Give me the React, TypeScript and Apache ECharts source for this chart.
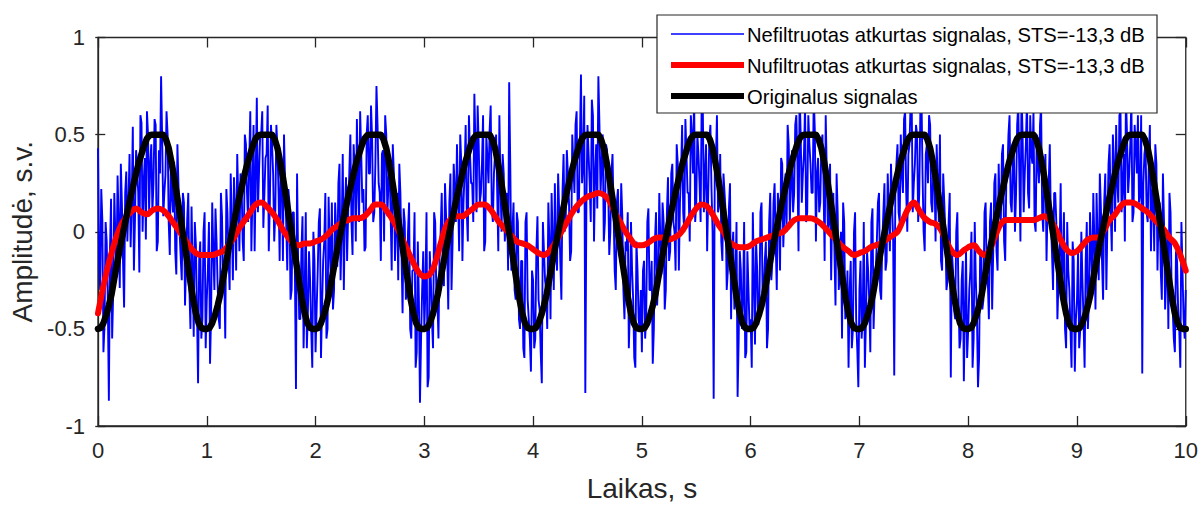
import React, { useEffect, useRef } from "react";
import * as echarts from "echarts";

// Noisy reconstructed signal (blue): samples at t = 0.00, 0.02, ... 10.00 s
const blueEven: number[] = [
  0.43,-0.30,0.06,-0.48,-0.05,-0.87,0.17,-0.31,-0.03,0.29,-0.29,0.14,-0.39,0.31,0.15,-0.08,0.54,0.06,0.33,-0.21,0.56,0.25,-0.04,0.5,0.35,0.1,0.58,-0.1,0.42,0.8,0.08,0.29,0.5,-0.12,0.19,0.36,-0.22,0.24,-0.13,0.2,-0.38,0.06,-0.29,0.13,-0.54,-0.07,-0.78,-0.05,-0.45,0.1,
  -0.35,0.05,-0.42,-0.1,0.12,-0.28,-0.5,0.08,-0.2,0.22,-0.12,0.3,-0.25,0.12,0.4,-0.1,0.25,-0.15,0.45,0.05,0.62,0.2,-0.1,0.69,0.3,0.5,0.02,0.38,0.65,0.15,0.45,-0.05,0.55,0.2,0.4,-0.15,0.25,-0.2,0.15,-0.3,0.1,-0.81,-0.15,-0.45,0.08,-0.32,-0.6,-0.1,-0.5,0.0,
  -0.62,-0.2,0.12,-0.38,-0.05,-0.55,0.18,-0.22,-0.4,0.15,-0.18,0.35,0.0,-0.3,0.28,0.1,0.5,-0.12,0.32,0.58,0.05,0.4,0.22,-0.08,0.6,0.3,0.48,0.1,0.75,0.25,-0.15,0.42,0.6,0.08,0.35,-0.2,0.3,0.02,-0.25,0.2,-0.42,0.05,-0.3,0.15,-0.55,-0.2,-0.7,-0.05,-0.88,-0.3,
  -0.5,0.1,-0.75,-0.25,-0.6,0.05,-0.35,-0.12,0.2,-0.28,0.08,-0.4,0.3,-0.05,0.22,0.45,-0.1,0.35,0.15,0.55,-0.05,0.4,0.25,0.71,0.1,0.45,0.2,0.6,-0.05,0.38,0.52,0.12,0.3,0.5,-0.1,0.25,0.4,-0.05,0.2,0.77,-0.2,0.15,-0.35,0.05,-0.5,-0.15,-0.65,0.1,-0.45,-0.72,
  -0.25,-0.55,0.08,-0.4,-0.78,-0.1,-0.3,0.15,-0.45,-0.05,0.25,-0.2,0.1,-0.35,0.4,0.05,0.3,-0.15,0.5,0.2,0.62,0.1,0.81,0.35,-0.83,0.55,0.25,0.68,-0.05,0.45,0.8,0.2,0.5,0.05,0.42,-0.12,0.3,0.1,-0.3,0.22,-0.15,0.08,-0.45,-0.1,-0.6,0.05,-0.35,-0.7,-0.2,-0.5,
  -0.62,-0.15,-0.42,0.12,-0.3,-0.68,-0.05,-0.38,0.2,-0.22,0.05,-0.3,0.28,-0.1,0.35,0.0,0.45,-0.2,0.3,0.1,0.58,0.2,-0.05,0.5,0.72,0.15,0.4,0.05,0.65,0.3,-0.1,0.48,0.22,-0.86,0.35,0.1,0.4,-0.15,0.2,-0.3,0.12,-0.45,0.0,-0.25,-0.85,-0.1,-0.5,0.05,-0.62,-0.3,
  -0.45,0.1,-0.58,-0.2,-0.4,0.15,-0.3,-0.05,-0.5,0.2,-0.15,0.25,-0.3,0.1,0.38,-0.08,0.3,0.55,0.05,0.42,0.2,0.6,-0.1,0.5,0.3,0.65,0.1,0.45,0.2,0.7,-0.05,0.38,0.15,0.5,-0.15,0.3,0.05,-0.25,0.2,-0.38,0.1,-0.2,-0.55,0.05,-0.4,-0.7,-0.15,-0.5,0.1,-0.6,
  -0.3,-0.55,0.05,-0.45,-0.2,-0.62,0.12,-0.3,-0.05,0.2,-0.35,0.1,-0.2,0.3,-0.1,0.15,-0.74,0.35,0.1,0.5,0.2,0.62,0.0,0.45,0.7,0.25,0.55,0.05,0.62,0.3,-0.1,0.45,0.6,0.15,0.35,-0.05,0.25,0.5,-0.2,0.15,-0.3,0.05,-0.75,-0.2,-0.45,0.1,-0.6,-0.25,-0.77,-0.1,
  -0.5,-0.2,-0.7,0.05,-0.42,-0.65,-0.1,-0.35,0.15,-0.25,0.05,-0.4,0.25,-0.1,0.35,0.05,0.45,-0.15,0.3,0.6,0.1,0.4,0.2,0.65,-0.05,0.5,0.3,0.68,0.12,0.4,0.62,0.0,0.35,0.55,0.1,0.3,-0.15,0.25,0.05,-0.3,0.2,-0.45,-0.1,-0.35,0.1,-0.6,-0.2,-0.5,-0.05,-0.72,
  -0.35,-0.6,0.0,-0.45,-0.15,-0.5,0.1,-0.3,-0.05,0.2,-0.25,0.12,-0.35,0.3,0.05,0.45,-0.1,0.35,0.55,0.15,0.62,0.25,-0.05,0.5,0.3,0.68,0.1,0.45,0.6,0.2,-0.73,0.4,0.1,0.35,-0.1,0.25,0.45,-0.2,0.15,-0.35,0.05,-0.25,-0.5,0.1,-0.4,-0.62,-0.15,-0.5,0.05,-0.45,
  -0.3,
];

// Noisy reconstructed signal (blue): samples at t = 0.01, 0.03, ... 9.99 s
const blueOdd: number[] = [
  -0.15,0.22,-0.62,0.05,-0.35,-0.1,-0.55,0.2,-0.2,0.05,0.35,-0.15,0.2,-0.05,0.4,0.15,-0.2,0.42,0.2,0.6,0.0,0.38,0.62,0.1,0.45,0.25,0.55,-0.05,0.3,0.48,0.2,0.62,0.05,0.4,0.1,-0.1,0.45,0.0,-0.25,0.15,-0.15,0.2,-0.5,-0.2,0.05,-0.4,-0.15,-0.55,0.0,-0.6,
  -0.2,-0.68,0.15,-0.3,-0.05,-0.45,0.2,-0.25,-0.55,0.1,-0.3,0.05,0.28,-0.2,0.15,0.3,-0.05,0.5,0.2,0.35,-0.1,0.55,0.3,0.1,0.48,0.62,0.2,0.4,-0.1,0.55,0.3,0.1,0.42,-0.15,0.3,0.5,0.05,0.22,-0.35,0.1,-0.2,0.3,-0.45,-0.1,-0.6,0.1,-0.4,-0.25,-0.7,-0.15,
  -0.4,0.05,-0.65,-0.15,0.2,-0.5,-0.1,0.15,-0.3,0.0,0.25,-0.25,0.4,0.1,-0.15,0.3,0.05,0.45,-0.05,0.25,0.62,0.15,-0.1,0.5,0.3,0.65,0.05,0.35,0.55,0.2,0.4,-0.05,0.5,0.25,0.1,0.45,-0.15,0.2,0.35,-0.1,0.12,-0.35,0.0,-0.5,-0.2,0.1,-0.62,-0.35,-0.55,-0.1,
  -0.3,-0.8,-0.1,-0.45,0.1,-0.3,-0.55,0.0,-0.2,0.25,-0.1,0.15,-0.3,0.35,0.05,0.2,0.5,-0.15,0.3,0.1,0.6,0.25,0.05,0.45,0.65,0.15,0.35,-0.1,0.5,0.25,0.65,0.05,0.4,0.2,0.6,0.0,0.3,0.15,-0.2,0.35,0.0,-0.3,0.1,-0.45,-0.15,-0.6,0.05,-0.35,-0.55,-0.2,
  -0.6,-0.1,-0.35,-0.62,0.05,-0.25,-0.5,-0.05,0.2,-0.3,-0.1,0.3,-0.15,0.2,0.0,0.42,0.15,-0.1,0.35,0.55,0.1,0.45,0.25,0.7,0.15,0.4,0.05,0.6,0.3,0.12,0.55,0.35,-0.05,0.45,0.25,0.0,0.4,-0.2,0.15,-0.05,0.25,-0.3,-0.05,0.1,-0.4,-0.2,-0.65,-0.05,-0.45,-0.3,
  -0.2,-0.55,0.05,-0.3,-0.15,-0.5,0.1,-0.25,-0.05,0.15,-0.4,0.1,-0.15,0.3,0.05,-0.2,0.35,0.15,0.55,0.0,0.4,0.2,0.6,0.3,0.05,0.5,0.25,0.7,0.1,0.45,0.2,0.55,0.0,0.3,0.6,0.15,-0.05,0.3,0.1,-0.2,0.25,-0.1,-0.4,0.05,-0.55,-0.2,-0.35,-0.65,-0.1,-0.5,
  -0.7,-0.25,-0.05,-0.48,0.1,-0.35,-0.15,-0.6,0.05,-0.25,0.15,-0.05,0.2,-0.2,0.35,0.1,0.0,0.45,0.25,0.1,0.55,0.35,0.72,0.15,0.4,0.05,0.6,0.35,0.2,0.52,0.3,0.1,0.45,0.25,0.6,0.0,0.35,0.15,-0.1,0.3,-0.3,0.0,0.15,-0.45,-0.2,-0.3,-0.6,0.0,-0.45,-0.8,
  -0.15,-0.45,-0.7,-0.1,-0.35,0.05,-0.5,-0.2,0.15,-0.3,-0.05,0.25,-0.15,0.1,0.35,-0.05,0.2,0.45,0.05,0.3,0.58,0.2,0.4,0.65,0.1,0.35,0.5,0.2,0.72,0.0,0.4,0.25,0.55,0.1,0.3,0.45,0.05,-0.15,0.3,0.0,-0.25,0.2,-0.1,-0.4,0.0,-0.3,-0.55,-0.15,-0.4,-0.65,
  -0.3,0.0,-0.55,-0.25,-0.8,-0.1,-0.4,0.1,-0.2,-0.45,0.15,-0.1,0.3,-0.2,0.1,0.4,-0.05,0.25,0.5,0.15,0.35,0.0,0.55,0.3,0.72,0.1,0.45,0.2,0.6,0.35,0.05,0.5,0.25,0.65,0.0,0.4,0.15,0.45,-0.1,0.2,0.05,-0.25,0.25,-0.15,-0.5,0.05,-0.3,-0.7,-0.15,-0.45,
  -0.1,-0.5,-0.25,-0.7,0.05,-0.35,-0.1,0.2,-0.4,-0.05,0.3,-0.15,0.15,-0.3,0.35,0.1,0.5,0.0,0.25,0.6,0.1,0.4,0.7,0.2,0.45,0.05,0.55,0.3,0.15,0.6,0.25,0.45,0.05,0.55,0.2,-0.1,0.35,0.1,-0.2,0.3,-0.4,0.0,0.2,-0.3,-0.55,-0.1,-0.4,-0.7,-0.2,-0.55,
];

// Filtered signal (red), 201 samples over 0..10 s
const redValues: number[] = [
  -0.42,-0.28,-0.16,-0.06,0.02,0.07,0.10,0.12,0.10,0.09,0.11,0.12,0.11,0.08,0.04,0.00,-0.04,-0.08,-0.11,-0.12,
  -0.12,-0.12,-0.11,-0.10,-0.07,-0.03,0.02,0.06,0.10,0.14,0.15,0.13,0.10,0.06,0.01,-0.03,-0.06,-0.07,-0.06,-0.06,
  -0.05,-0.04,-0.02,0.01,0.03,0.05,0.06,0.07,0.07,0.08,0.11,0.14,0.14,0.11,0.07,0.02,-0.04,-0.10,-0.16,-0.21,
  -0.23,-0.22,-0.16,-0.06,0.03,0.07,0.08,0.08,0.10,0.12,0.14,0.14,0.12,0.08,0.04,0.01,-0.02,-0.05,-0.06,-0.07,
  -0.09,-0.11,-0.12,-0.10,-0.06,-0.01,0.04,0.09,0.13,0.16,0.18,0.19,0.20,0.19,0.16,0.10,0.05,0.00,-0.04,-0.07,
  -0.07,-0.06,-0.04,-0.03,-0.03,-0.04,-0.03,-0.01,0.03,0.08,0.12,0.14,0.13,0.09,0.04,0.00,-0.05,-0.07,-0.08,-0.08,
  -0.07,-0.05,-0.04,-0.03,-0.02,-0.01,0.00,0.03,0.06,0.07,0.07,0.07,0.06,0.04,0.01,-0.02,-0.05,-0.08,-0.10,-0.12,
  -0.11,-0.10,-0.08,-0.07,-0.06,-0.04,-0.02,0.00,0.06,0.12,0.15,0.11,0.07,0.05,0.04,0.01,-0.05,-0.10,-0.12,-0.10,
  -0.08,-0.07,-0.10,-0.12,-0.09,-0.02,0.04,0.06,0.06,0.06,0.06,0.06,0.06,0.07,0.08,0.06,0.02,-0.04,-0.09,-0.11,
  -0.10,-0.07,-0.04,-0.03,-0.03,0.01,0.06,0.09,0.13,0.15,0.15,0.14,0.12,0.10,0.07,0.04,0.01,-0.03,-0.06,-0.12,
  -0.20,
];

// Original signal (black), 401 samples over 0..10 s
const blackValues: number[] = [
  -0.5,-0.495,-0.47,-0.43,-0.38,-0.32,-0.24,-0.165,-0.09,-0.02,0.05,0.115,0.18,0.24,0.3,0.355,0.4,0.445,0.48,0.497,0.5,0.5,0.5,0.5,0.5,0.475,0.43,0.36,0.28,0.19,0.1,0.01,-0.08,-0.17,-0.26,-0.35,-0.42,-0.47,-0.495,-0.5,
  -0.5,-0.495,-0.47,-0.43,-0.38,-0.32,-0.24,-0.165,-0.09,-0.02,0.05,0.115,0.18,0.24,0.3,0.355,0.4,0.445,0.48,0.497,0.5,0.5,0.5,0.5,0.5,0.475,0.43,0.36,0.28,0.19,0.1,0.01,-0.08,-0.17,-0.26,-0.35,-0.42,-0.47,-0.495,-0.5,
  -0.5,-0.495,-0.47,-0.43,-0.38,-0.32,-0.24,-0.165,-0.09,-0.02,0.05,0.115,0.18,0.24,0.3,0.355,0.4,0.445,0.48,0.497,0.5,0.5,0.5,0.5,0.5,0.475,0.43,0.36,0.28,0.19,0.1,0.01,-0.08,-0.17,-0.26,-0.35,-0.42,-0.47,-0.495,-0.5,
  -0.5,-0.495,-0.47,-0.43,-0.38,-0.32,-0.24,-0.165,-0.09,-0.02,0.05,0.115,0.18,0.24,0.3,0.355,0.4,0.445,0.48,0.497,0.5,0.5,0.5,0.5,0.5,0.475,0.43,0.36,0.28,0.19,0.1,0.01,-0.08,-0.17,-0.26,-0.35,-0.42,-0.47,-0.495,-0.5,
  -0.5,-0.495,-0.47,-0.43,-0.38,-0.32,-0.24,-0.165,-0.09,-0.02,0.05,0.115,0.18,0.24,0.3,0.355,0.4,0.445,0.48,0.497,0.5,0.5,0.5,0.5,0.5,0.475,0.43,0.36,0.28,0.19,0.1,0.01,-0.08,-0.17,-0.26,-0.35,-0.42,-0.47,-0.495,-0.5,
  -0.5,-0.495,-0.47,-0.43,-0.38,-0.32,-0.24,-0.165,-0.09,-0.02,0.05,0.115,0.18,0.24,0.3,0.355,0.4,0.445,0.48,0.497,0.5,0.5,0.5,0.5,0.5,0.475,0.43,0.36,0.28,0.19,0.1,0.01,-0.08,-0.17,-0.26,-0.35,-0.42,-0.47,-0.495,-0.5,
  -0.5,-0.495,-0.47,-0.43,-0.38,-0.32,-0.24,-0.165,-0.09,-0.02,0.05,0.115,0.18,0.24,0.3,0.355,0.4,0.445,0.48,0.497,0.5,0.5,0.5,0.5,0.5,0.475,0.43,0.36,0.28,0.19,0.1,0.01,-0.08,-0.17,-0.26,-0.35,-0.42,-0.47,-0.495,-0.5,
  -0.5,-0.495,-0.47,-0.43,-0.38,-0.32,-0.24,-0.165,-0.09,-0.02,0.05,0.115,0.18,0.24,0.3,0.355,0.4,0.445,0.48,0.497,0.5,0.5,0.5,0.5,0.5,0.475,0.43,0.36,0.28,0.19,0.1,0.01,-0.08,-0.17,-0.26,-0.35,-0.42,-0.47,-0.495,-0.5,
  -0.5,-0.495,-0.47,-0.43,-0.38,-0.32,-0.24,-0.165,-0.09,-0.02,0.05,0.115,0.18,0.24,0.3,0.355,0.4,0.445,0.48,0.497,0.5,0.5,0.5,0.5,0.5,0.475,0.43,0.36,0.28,0.19,0.1,0.01,-0.08,-0.17,-0.26,-0.35,-0.42,-0.47,-0.495,-0.5,
  -0.5,-0.495,-0.47,-0.43,-0.38,-0.32,-0.24,-0.165,-0.09,-0.02,0.05,0.115,0.18,0.24,0.3,0.355,0.4,0.445,0.48,0.497,0.5,0.5,0.5,0.5,0.5,0.475,0.43,0.36,0.28,0.19,0.1,0.01,-0.08,-0.17,-0.26,-0.35,-0.42,-0.47,-0.495,-0.5,
  -0.5,
];

const T_START = 0;
const T_END = 10;
const seriesNames = [
  "Nefiltruotas atkurtas signalas, STS=-13,3 dB",
  "Nufiltruotas atkurtas signalas, STS=-13,3 dB",
  "Originalus signalas",
];
const xAxisTitle = "Laikas, s";
const yAxisTitle = "Amplitudė, s.v.";

const toPairs = (vals: number[]) =>
  vals.map((v, i) => [T_START + ((T_END - T_START) * i) / (vals.length - 1), v]);

// interleave the even / odd samples into one ordered sequence
const blueValues: number[] = [];
blueEven.forEach((v, k) => {
  blueValues.push(v);
  if (k < blueOdd.length) blueValues.push(blueOdd[k]);
});

const FONT = '"Liberation Sans", Arial, Helvetica, sans-serif';
const AXIS_COLOR = "#262626";
const GRID_LEFT = 97.5;
const GRID_RIGHT = 13;
const CHART_W = 1201;
const CHART_H = 507;

export default function App() {
  const ref = useRef<HTMLDivElement>(null);
  useEffect(() => {
    if (!ref.current) return;
    const chart = echarts.init(ref.current, null, { renderer: "svg" });
    const lineStyle = { color: AXIS_COLOR, width: 1.3 };
    const legendX = 657;
    const legendY = 15;
    const rows = [34, 65, 96];
    const colors = ["#0000ff", "#ff0000", "#000000"];
    const widths = [1.5, 6, 6];
    const graphics: any[] = [
      {
        type: "rect",
        z: 100,
        shape: { x: legendX, y: legendY, width: 500, height: 98 },
        style: { fill: "#ffffff", stroke: AXIS_COLOR, lineWidth: 1.2 },
      },
    ];
    rows.forEach((y, i) => {
      graphics.push({
        type: "line",
        z: 101,
        shape: { x1: 671, y1: y, x2: 744, y2: y },
        style: { stroke: colors[i], lineWidth: widths[i] },
      });
      graphics.push({
        type: "text",
        z: 101,
        style: {
          text: seriesNames[i],
          x: 747,
          y: y + 1,
          fill: "#000000",
          font: `20.2px ${FONT}`,
          align: "left",
          verticalAlign: "middle",
        },
      });
    });

    const plotWidth = CHART_W - GRID_LEFT - GRID_RIGHT;

    chart.setOption({
      animation: false,
      backgroundColor: "#ffffff",
      textStyle: { fontFamily: FONT },
      grid: {
        left: GRID_LEFT,
        right: GRID_RIGHT,
        top: 37.5,
        bottom: 78,
        containLabel: false,
        show: true,
        borderColor: AXIS_COLOR,
        borderWidth: 1.3,
        backgroundColor: "transparent",
      },
      xAxis: [
        {
          type: "value",
          min: 0,
          max: 10,
          interval: 1,
          position: "bottom",
          axisLine: { show: true, onZero: false, lineStyle },
          axisTick: { show: true, inside: true, length: 10, lineStyle },
          splitLine: { show: false },
          axisLabel: { color: AXIS_COLOR, fontSize: 22, margin: 13, fontFamily: FONT },
          name: xAxisTitle,
          nameLocation: "middle",
          nameGap: 48,
          nameTextStyle: { color: AXIS_COLOR, fontSize: 28, fontFamily: FONT },
        },
        {
          type: "value",
          min: 0,
          max: 10,
          interval: 1,
          position: "top",
          axisLine: { show: false, onZero: false, lineStyle },
          axisTick: { show: true, inside: true, length: 10, lineStyle },
          splitLine: { show: false },
          axisLabel: { show: false },
        },
      ],
      yAxis: [
        {
          type: "value",
          min: -1,
          max: 1,
          interval: 0.5,
          position: "left",
          axisLine: { show: true, onZero: false, lineStyle },
          axisTick: { show: false },
          splitLine: { show: false },
          axisLabel: { color: AXIS_COLOR, fontSize: 22, margin: 13, fontFamily: FONT },
          name: yAxisTitle,
          nameLocation: "middle",
          nameGap: 62,
          nameRotate: 90,
          nameTextStyle: { color: AXIS_COLOR, fontSize: 28, fontFamily: FONT },
        },
        {
          type: "value",
          min: -1,
          max: 1,
          interval: 0.5,
          position: "right",
          axisLine: { show: false, onZero: false, lineStyle },
          axisTick: { show: true, inside: true, length: 10, lineStyle },
          splitLine: { show: false },
          axisLabel: { show: false },
        },
        {
          // tick marks along the left edge, pointing into the plot
          type: "value",
          min: -1,
          max: 1,
          interval: 0.5,
          position: "right",
          offset: -plotWidth,
          axisLine: { show: false, onZero: false, lineStyle },
          axisTick: { show: true, inside: false, length: 10, lineStyle },
          splitLine: { show: false },
          axisLabel: { show: false },
        },
      ],
      series: [
        {
          name: seriesNames[0],
          type: "line",
          data: toPairs(blueValues),
          showSymbol: false,
          symbol: "none",
          silent: true,
          z: 2,
          lineStyle: { color: "#0000ff", width: 1.9 },
        },
        {
          name: seriesNames[1],
          type: "line",
          data: toPairs(redValues),
          showSymbol: false,
          symbol: "none",
          smooth: 0.4,
          silent: true,
          z: 3,
          lineStyle: { color: "#ff0000", width: 6, cap: "round", join: "round" },
        },
        {
          name: seriesNames[2],
          type: "line",
          data: toPairs(blackValues),
          showSymbol: false,
          symbol: "none",
          silent: true,
          z: 4,
          lineStyle: { color: "#000000", width: 6.5, cap: "round", join: "round" },
        },
      ],
      graphic: graphics,
    });
    return () => chart.dispose();
  }, []);
  return (
    <div
      ref={ref}
      style={{ position: "absolute", left: 0, top: 0, width: CHART_W, height: CHART_H, background: "#fff" }}
    />
  );
}
